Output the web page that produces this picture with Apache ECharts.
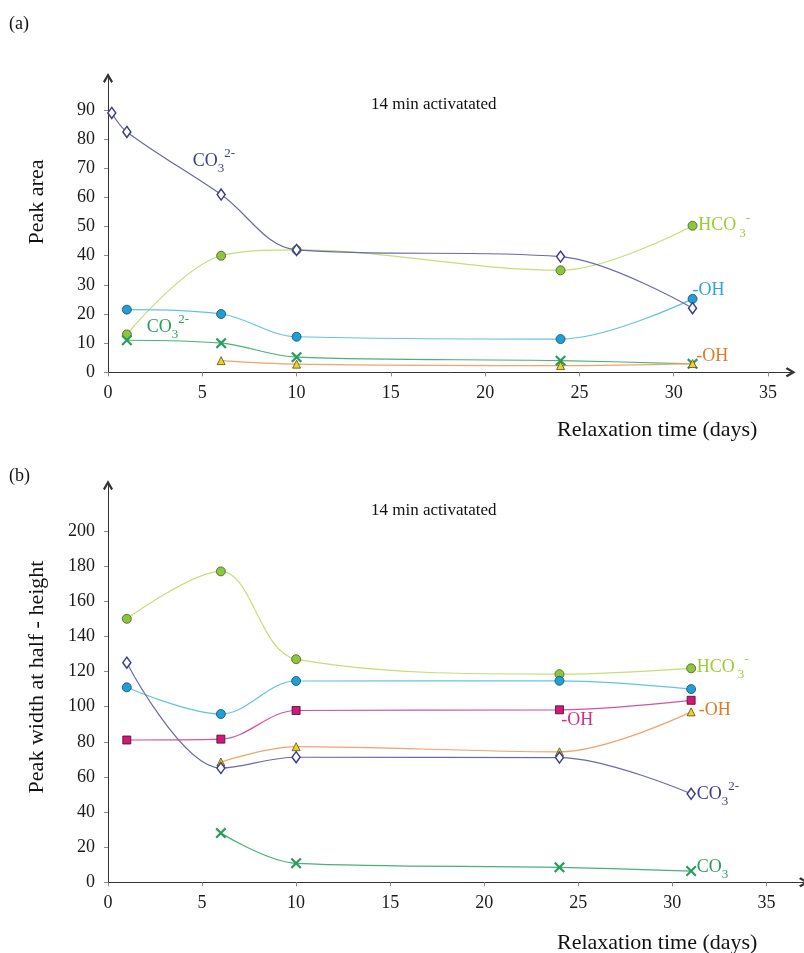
<!DOCTYPE html>
<html>
<head>
<meta charset="utf-8">
<script src="https://cdn.jsdelivr.net/npm/echarts@6/dist/echarts.min.js"></script>
<style>
  html, body { margin: 0; padding: 0; background: #fff; }
  #chart { width: 804px; height: 953px; }
</style>
</head>
<body>
<div id="chart"></div>
<script>
// ---- (a) peak area vs relaxation time ----
const daysA_CO3 = [0.2, 1, 6, 10, 24, 31];
const areaCO3 = [89, 82.5, 61, 42, 39.7, 22];
const daysA = [1, 6, 10, 24, 31];
const areaHCO3 = [13, 40, 42, 35, 50.3];
const areaOH = [21.5, 20, 12.2, 11.4, 25.2];
const areaCO3b = [11, 10, 5.2, 4, 2.9];
const daysA_OH2 = [6, 10, 24, 31];
const areaOH2 = [4, 2.8, 2.3, 3];

// ---- (b) peak width at half height vs relaxation time ----
const daysB = [1, 6, 10, 24, 31];
const widthHCO3 = [150, 177, 127, 118.5, 121.8];
const widthOH = [111, 95.8, 114.6, 114.7, 110];
const widthOHsq = [81, 81.5, 97.8, 98.2, 103.6];
const widthCO3 = [125, 65, 71.2, 71, 50.4];
const daysB_OH2 = [6, 10, 24, 31];
const widthOH2 = [68.5, 77.2, 74.3, 97];
const daysB_CO3b = [6, 10, 24, 31];
const widthCO3b = [28, 10.8, 8.5, 6.4];

// tick labels
const xTicks = [0, 5, 10, 15, 20, 25, 30, 35];
const yTicksA = [0, 10, 20, 30, 40, 50, 60, 70, 80, 90];
const yTicksB = [0, 20, 40, 60, 80, 100, 120, 140, 160, 180, 200];

const SERIF = '"Liberation Serif", "DejaVu Serif", serif';
const CHEVRON = 'path://M0,8.4 L5,0 L10,8.4 L8.2,10 L5,4.2 L1.8,10 Z';
const CROSS = 'path://M0,1.4 L1.4,0 L5,3.6 L8.6,0 L10,1.4 L6.4,5 L10,8.6 L8.6,10 L5,6.4 L1.4,10 L0,8.6 L3.6,5 Z';

const C = {
  navy: '#3d3d8e', navyLine: '#6a6aa6',
  lime: '#8cc63f', limeLine: '#c6de74', limeText: '#9acd32',
  cyan: '#1f9fd8', cyanLine: '#62c3e3', cyanText: '#2aa6da',
  green: '#2a9d5c', greenLine: '#4bb07a',
  yellow: '#e6d32c', orangeLine: '#f0a46a', orangeText: '#e07a2a',
  magenta: '#d4177a', magentaLine: '#d552a2', magentaText: '#d0308c'
};

function zip(xs, ys) { return xs.map((x, i) => [x, ys[i]]); }

function rich(color) {
  return {
    n: { fontFamily: SERIF, fontSize: 18, color: color, lineHeight: 28 },
    sub: { fontFamily: SERIF, fontSize: 13, color: color, lineHeight: 14, verticalAlign: 'bottom' },
    subg: { fontFamily: SERIF, fontSize: 13, color: color, lineHeight: 14, verticalAlign: 'bottom', padding: [0, 0, 0, 3] },
    sup: { fontFamily: SERIF, fontSize: 13, color: color, lineHeight: 15, verticalAlign: 'top' }
  };
}
const TXT = {
  co32: '{n|CO}{sub|3}{sup|2-}',
  hco3: '{n|HCO}{subg|3}{sup|-}',
  oh: '{n|-OH}',
  co3: '{n|CO}{sub|3}'
};
function tag(coord, text, color) {
  return {
    symbol: 'circle', symbolSize: 0, silent: true,
    label: { show: true, position: 'right', distance: 0, formatter: text, rich: rich(color) },
    data: [{ coord: coord }]
  };
}

function line(name, gi, data, sym, size, fill, border, lineColor, bw, mark) {
  return {
    name: name, type: 'line', xAxisIndex: gi, yAxisIndex: gi,
    data: data, smooth: 0.35, symbol: sym, symbolSize: size, showAllSymbol: true,
    lineStyle: { color: lineColor, width: 1.2 },
    itemStyle: { color: fill, borderColor: border, borderWidth: bw, opacity: 1 },
    markPoint: mark
  };
}

function xAxis(gi, max) {
  return {
    gridIndex: gi, type: 'value', min: 0, max: max, interval: 5,
    axisLine: { show: true, onZero: false, symbol: ['none', CHEVRON], symbolSize: [11, 10], lineStyle: { color: '#333', width: 1 } },
    axisTick: { show: true, length: 4, customValues: xTicks, lineStyle: { color: '#8a8a8a' } },
    axisLabel: { customValues: xTicks, margin: 12, fontFamily: SERIF, fontSize: 18, color: '#1a1a1a' },
    splitLine: { show: false }
  };
}
function yAxis(gi, max, interval, ticks) {
  return {
    gridIndex: gi, type: 'value', min: 0, max: max, interval: interval,
    axisLine: { show: true, onZero: false, symbol: ['none', CHEVRON], symbolSize: [11, 10], lineStyle: { color: '#333', width: 1 } },
    axisTick: { show: true, length: 4, customValues: ticks, lineStyle: { color: '#8a8a8a' } },
    axisLabel: { customValues: ticks, margin: 13, fontFamily: SERIF, fontSize: 18, color: '#1a1a1a' },
    splitLine: { show: false }
  };
}

function text(x, y, str, size, extra) {
  return Object.assign({
    type: 'text', x: x, y: y,
    style: { text: str, fontFamily: SERIF, fontSize: size, fill: '#111', textAlign: 'left', textVerticalAlign: 'middle' }
  }, extra || {});
}

const chart = echarts.init(document.getElementById('chart'), null, { renderer: 'canvas' });
chart.setOption({
  animation: false,
  backgroundColor: '#fff',
  grid: [
    { left: 108, top: 78, width: 682.6, height: 294.3 },
    { left: 108, top: 485.3, width: 697.7, height: 397 }
  ],
  xAxis: [xAxis(0, 36.2), xAxis(1, 37)],
  yAxis: [yAxis(0, 101, 10, yTicksA), yAxis(1, 226, 20, yTicksB)],
  graphic: [
    text(9, 24, '(a)', 18),
    text(9, 476, '(b)', 18),
    text(371, 105, '14 min activatated', 17),
    text(371, 511, '14 min activatated', 17),
    text(557, 430, 'Relaxation time (days)', 22),
    text(557, 943, 'Relaxation time (days)', 22),
    { type: 'text', x: 37, y: 202, rotation: Math.PI / 2,
      style: { text: 'Peak area', fontFamily: SERIF, fontSize: 22, fill: '#111', textAlign: 'center', textVerticalAlign: 'middle' } },
    { type: 'text', x: 37, y: 677, rotation: Math.PI / 2,
      style: { text: 'Peak width at half - height', fontFamily: SERIF, fontSize: 22, fill: '#111', textAlign: 'center', textVerticalAlign: 'middle' } }
  ],
  series: [
    // (a)
    line('HCO3- area', 0, zip(daysA, areaHCO3), 'circle', 9, C.lime, '#4a5a20', C.limeLine, 0.8,
      tag([31.3, 50.3], TXT.hco3, C.limeText)),
    line('OH area', 0, zip(daysA, areaOH), 'circle', 9, C.cyan, '#1d4a66', C.cyanLine, 0.8,
      tag([31, 28.2], TXT.oh, C.cyanText)),
    line('CO3 2- area', 0, zip(daysA_CO3, areaCO3), 'diamond', [8, 11], '#fff', C.navy, C.navyLine, 1.5,
      tag([4.5, 72.5], TXT.co32, C.navy)),
    line('CO3 area', 0, zip(daysA, areaCO3b), CROSS, 11, C.green, C.green, C.greenLine, 0,
      tag([2.05, 15.6], TXT.co32, C.green)),
    line('OH2 area', 0, zip(daysA_OH2, areaOH2), 'triangle', 8, C.yellow, '#5a4a10', C.orangeLine, 0.8,
      tag([31.2, 5.35], TXT.oh, C.orangeText)),
    // (b)
    line('HCO3- width', 1, zip(daysB, widthHCO3), 'circle', 9, C.lime, '#4a5a20', C.limeLine, 0.8,
      tag([31.3, 122.6], TXT.hco3, C.limeText)),
    line('OH width', 1, zip(daysB, widthOH), 'circle', 9, C.cyan, '#1d4a66', C.cyanLine, 0.8, null),
    line('OH sq width', 1, zip(daysB, widthOHsq), 'rect', 8, C.magenta, '#3a1024', C.magentaLine, 0.8,
      tag([24.09, 92], TXT.oh, C.magentaText)),
    line('OH2 width', 1, zip(daysB_OH2, widthOH2), 'triangle', 8, C.yellow, '#5a4a10', C.orangeLine, 0.8,
      tag([31.4, 97.9], TXT.oh, C.orangeText)),
    line('CO3 2- width', 1, zip(daysB, widthCO3), 'diamond', [8, 11], '#fff', C.navy, C.navyLine, 1.5,
      tag([31.3, 50], TXT.co32, C.navy)),
    line('CO3 width', 1, zip(daysB_CO3b, widthCO3b), CROSS, 11, C.green, C.green, C.greenLine, 0,
      tag([31.3, 8.8], TXT.co3, C.green))
  ]
});
</script>
</body>
</html>
